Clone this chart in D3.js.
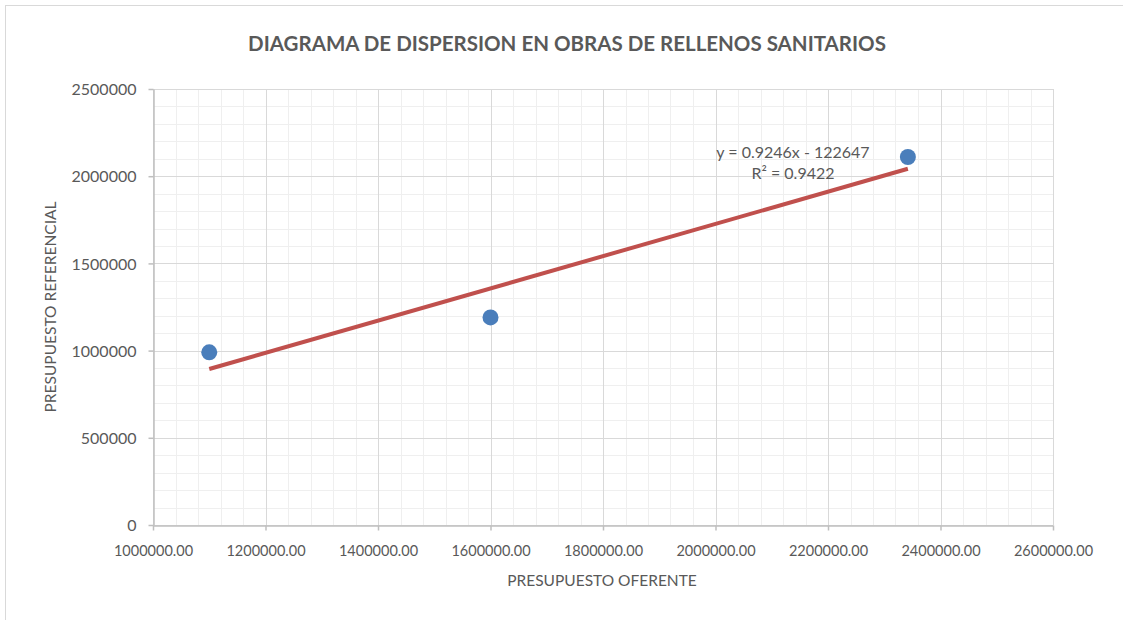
<!DOCTYPE html>
<html>
<head>
<meta charset="utf-8">
<script src="https://cdn.jsdelivr.net/npm/d3@7"></script>
<style>
  html, body { margin: 0; padding: 0; background: #fff; overflow: hidden; }
  svg { display: block; }
  text { font-family: Lato, "Open Sans", sans-serif; fill: #595959; }
</style>
</head>
<body>
<svg id="chart" width="1123" height="620"></svg>
<script>
// ---- data ----
const title = "DIAGRAMA DE DISPERSION EN OBRAS DE RELLENOS SANITARIOS";
const xLabel = "PRESUPUESTO OFERENTE";
const yLabel = "PRESUPUESTO REFERENCIAL";
const presupuestoOferente = [1100000, 1600000, 2342000];
const presupuestoReferencial = [990000, 1190000, 2110000];
const trendSlope = 0.9246;
const trendIntercept = -122647;
const trendR2 = 0.9422;
const xTicks = [1000000, 1200000, 1400000, 1600000, 1800000, 2000000, 2200000, 2400000, 2600000];
const yTicks = [0, 500000, 1000000, 1500000, 2000000, 2500000];

// ---- layout ----
const svg = d3.select("#chart");
const pLeft = 153, pRight = 1053, pTop = 89, pBottom = 525;

// chart frame
svg.append("rect").attr("x", 5.5).attr("y", 5.5).attr("width", 1140).attr("height", 640)
  .attr("fill", "#fff").attr("stroke", "#d9d9d9").attr("stroke-width", 1);

const x = d3.scaleLinear().domain([1000000, 2600000]).range([pLeft, pRight]);
const y = d3.scaleLinear().domain([0, 2500000]).range([pBottom, pTop]);

// minor gridlines
const xMinor = d3.range(1000000, 2600001, 40000);
const yMinor = d3.range(0, 2500001, 100000);
const g = svg.append("g");
g.selectAll(".xm").data(xMinor).join("line")
  .attr("x1", d => Math.round(x(d)) + 0.5).attr("x2", d => Math.round(x(d)) + 0.5)
  .attr("y1", pTop).attr("y2", pBottom).attr("stroke", "#efefef").attr("stroke-width", 1);
g.selectAll(".ym").data(yMinor).join("line")
  .attr("y1", d => Math.round(y(d)) + 0.5).attr("y2", d => Math.round(y(d)) + 0.5)
  .attr("x1", pLeft).attr("x2", pRight).attr("stroke", "#efefef").attr("stroke-width", 1);
// major gridlines
g.selectAll(".xM").data(xTicks).join("line")
  .attr("x1", d => Math.round(x(d)) + 0.5).attr("x2", d => Math.round(x(d)) + 0.5)
  .attr("y1", pTop).attr("y2", pBottom).attr("stroke", "#d9d9d9").attr("stroke-width", 1);
g.selectAll(".yM").data(yTicks).join("line")
  .attr("y1", d => Math.round(y(d)) + 0.5).attr("y2", d => Math.round(y(d)) + 0.5)
  .attr("x1", pLeft).attr("x2", pRight).attr("stroke", "#d9d9d9").attr("stroke-width", 1);

// axes
const xAxis = d3.axisBottom(x).tickValues(xTicks).tickSize(5).tickSizeOuter(0)
  .tickFormat(d => d3.format(".2f")(d));
const yAxis = d3.axisLeft(y).tickValues(yTicks).tickSize(5).tickSizeOuter(0)
  .tickFormat(d => String(d));

const gx = svg.append("g").attr("transform", `translate(0,${pBottom + 0.5})`).call(xAxis);
const gy = svg.append("g").attr("transform", `translate(${pLeft + 0.5},0)`).call(yAxis);
[gx, gy].forEach(a => {
  a.select(".domain").attr("stroke", "#bfbfbf").attr("stroke-width", 1.5);
  a.selectAll(".tick line").attr("stroke", "#bfbfbf").attr("stroke-width", 1.5);
  a.selectAll(".tick text").attr("fill", "#595959")
    .style("font-family", "Lato, 'Open Sans', sans-serif");
});
gx.selectAll(".tick text").style("font-size", "14.5px").attr("dy", "0").attr("y", 30);
gy.selectAll(".tick text").style("font-size", "16px").attr("x", -17).attr("dy", "0.35em");

// trendline
const xmin = d3.min(presupuestoOferente), xmax = d3.max(presupuestoOferente);
svg.append("line")
  .attr("x1", x(xmin)).attr("y1", y(trendSlope * xmin + trendIntercept))
  .attr("x2", x(xmax)).attr("y2", y(trendSlope * xmax + trendIntercept))
  .attr("stroke", "#c0504d").attr("stroke-width", 4);

// points
svg.selectAll(".pt").data(presupuestoOferente.map((v, i) => [v, presupuestoReferencial[i]]))
  .join("circle")
  .attr("cx", d => x(d[0])).attr("cy", d => y(d[1])).attr("r", 8)
  .attr("fill", "#4a7ebb");

// equation
svg.append("text").attr("x", 793).attr("y", 158).attr("text-anchor", "middle")
  .style("font-size", "16px")
  .text(`y = ${trendSlope}x - ${Math.abs(trendIntercept)}`);
svg.append("text").attr("x", 793).attr("y", 179).attr("text-anchor", "middle")
  .style("font-size", "16px")
  .text(`R² = ${trendR2}`);

// title
svg.append("text").attr("x", 567).attr("y", 51).attr("text-anchor", "middle")
  .style("font-size", "20.5px").style("font-weight", "bold")
  .text(title);

// axis titles
svg.append("text").attr("x", 602).attr("y", 586).attr("text-anchor", "middle")
  .style("font-size", "15.5px").text(xLabel);
svg.append("text").attr("transform", "translate(56,307) rotate(-90)").attr("text-anchor", "middle")
  .style("font-size", "15.5px").text(yLabel);
</script>
</body>
</html>
